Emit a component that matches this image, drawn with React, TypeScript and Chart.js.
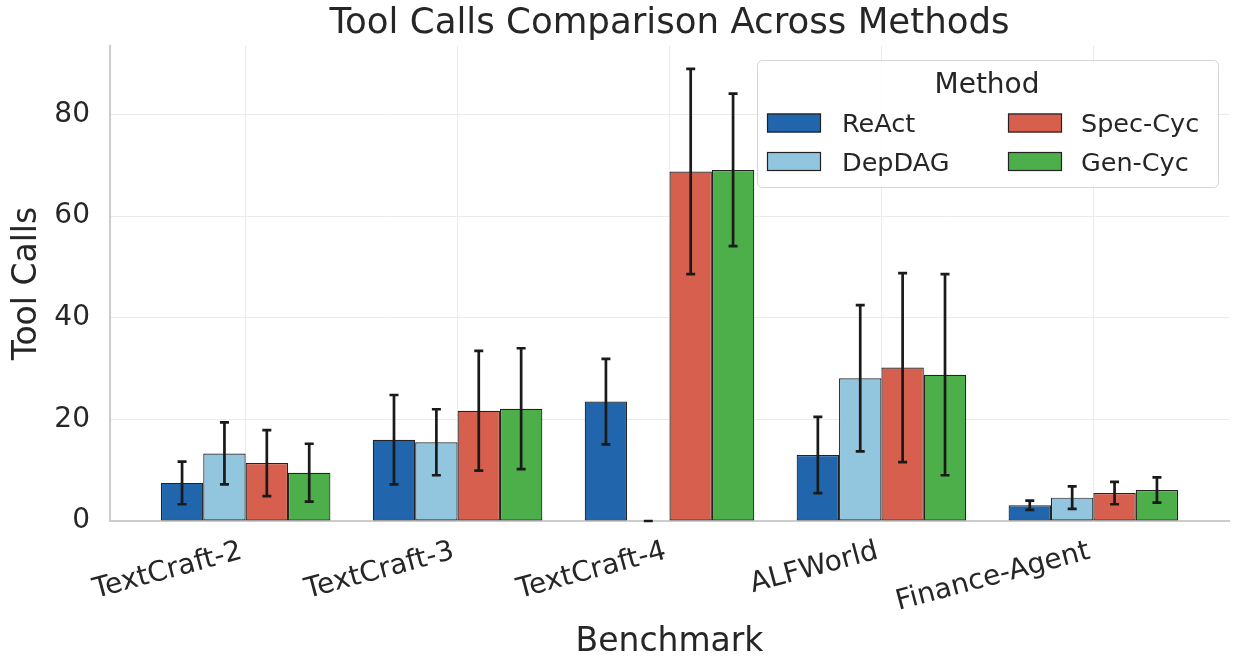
import React, { useEffect, useRef } from "react";
import { Chart, registerables } from "chart.js";

Chart.register(...registerables);

const categories = ["TextCraft-2", "TextCraft-3", "TextCraft-4", "ALFWorld", "Finance-Agent"];
const methods = ["ReAct", "DepDAG", "Spec-Cyc", "Gen-Cyc"];

const reactMean = [7.5, 16.0, 23.5, 13.0, 3.1];
const reactErr = [4.2, 8.8, 8.4, 7.5, 0.9];
const depdagMean = [13.3, 15.5, 0, 28.1, 4.6];
const depdagErr = [6.1, 6.5, 0, 14.4, 2.2];
const specMean = [11.4, 21.7, 68.8, 30.2, 5.5];
const specErr = [6.5, 11.8, 20.2, 18.6, 2.2];
const genMean = [9.5, 22.1, 69.1, 28.8, 6.1];
const genErr = [5.7, 11.9, 15.0, 19.8, 2.5];

const yTicks = [0, 20, 40, 60, 80];

const means = [reactMean, depdagMean, specMean, genMean];
const errs = [reactErr, depdagErr, specErr, genErr];
const colors = ["#2166ac", "#92c5de", "#d6604d", "#4daf4a"];

const FONT = "'DejaVu Sans', sans-serif";
const TEXT = "#262626";

const errorBarPlugin = {
  id: "errorBars",
  afterDatasetsDraw(chart: any) {
    const ctx = chart.ctx;
    const yScale = chart.scales.y;
    chart.data.datasets.forEach((ds: any, i: number) => {
      const meta = chart.getDatasetMeta(i);
      meta.data.forEach((bar: any, j: number) => {
        const v = ds.data[j].y;
        const e = ds.errors[j];
        const top = yScale.getPixelForValue(v + e);
        const bot = yScale.getPixelForValue(Math.max(v - e, 0));
        ctx.save();
        ctx.strokeStyle = "#1a1a1a";
        ctx.lineWidth = 2.7;
        ctx.lineCap = "butt";
        ctx.beginPath();
        ctx.moveTo(bar.x, top);
        ctx.lineTo(bar.x, bot);
        ctx.moveTo(bar.x - 4.5, top);
        ctx.lineTo(bar.x + 4.5, top);
        ctx.moveTo(bar.x - 4.5, bot);
        ctx.lineTo(bar.x + 4.5, bot);
        ctx.stroke();
        ctx.restore();
      });
    });
  },
};

const legendPlugin = {
  id: "methodLegend",
  afterDraw(chart: any) {
    const ctx = chart.ctx;
    const bx = 757, by = 60, bw = 461, bh = 127;
    ctx.save();
    ctx.beginPath();
    (ctx as any).roundRect(bx + 0.5, by + 0.5, bw, bh, 5);
    ctx.fillStyle = "rgba(255,255,255,0.85)";
    ctx.fill();
    ctx.strokeStyle = "#d5d5d5";
    ctx.lineWidth = 1;
    ctx.stroke();

    ctx.fillStyle = TEXT;
    ctx.font = `28px ${FONT}`;
    ctx.textAlign = "center";
    ctx.textBaseline = "alphabetic";
    ctx.fillText("Method", 987, 93);

    const cols = [{ sx: 767, tx: 842 }, { sx: 1008, tx: 1081 }];
    const rows = [123, 161.5];
    chart.data.datasets.forEach((ds: any, i: number) => {
      const col = cols[Math.floor(i / 2)];
      const cy = rows[i % 2];
      ctx.fillStyle = ds.backgroundColor;
      ctx.fillRect(col.sx, cy - 9.5, 54, 19);
      ctx.strokeStyle = "#222";
      ctx.lineWidth = 1.2;
      ctx.strokeRect(col.sx + 0.5, cy - 9.5 + 0.5, 53, 18);
      ctx.fillStyle = TEXT;
      ctx.font = `25.5px ${FONT}`;
      ctx.textAlign = "left";
      ctx.fillText(ds.label, col.tx, cy + 9.3);
    });
    ctx.restore();
  },
};

export default function App() {
  const ref = useRef<HTMLCanvasElement>(null);

  useEffect(() => {
    const datasets = methods.map((m, i) => ({
      label: m,
      data: means[i].map((v, j) => ({ x: j, y: v })),
      errors: errs[i],
      backgroundColor: colors[i],
      borderColor: "#222222",
      borderWidth: 1.2,
      borderSkipped: false,
      categoryPercentage: 0.8,
      barPercentage: 1.0,
    }));

    const chart = new Chart(ref.current as HTMLCanvasElement, {
      type: "bar",
      data: { datasets: datasets as any },
      plugins: [errorBarPlugin, legendPlugin],
      options: {
        animation: false,
        responsive: false,
        devicePixelRatio: 1,
        events: [],
        layout: { padding: { left: 0, right: 6, top: 0, bottom: 0 } },
        plugins: {
          legend: { display: false },
          tooltip: { enabled: false },
          title: {
            display: true,
            text: "Tool Calls Comparison Across Methods",
            fullSize: false,
            color: TEXT,
            font: { family: FONT, size: 35.6, weight: "normal", lineHeight: 1.1 },
            padding: { top: 4, bottom: 2.8 },
          },
        },
        scales: {
          x: {
            type: "linear",
            offset: false,
            min: -0.64,
            max: 4.64,
            afterBuildTicks: (s: any) => {
              s.ticks = categories.map((_, i) => ({ value: i }));
            },
            afterFit: (s: any) => {
              s.height = 141;
            },
            ticks: {
              callback: (v: any) => categories[v] ?? "",
              minRotation: 15,
              maxRotation: 15,
              autoSkip: false,
              padding: 14,
              labelOffset: -4,
              color: TEXT,
              font: { family: FONT, size: 28 },
            },
            grid: { color: "#ebebeb", lineWidth: 1, drawTicks: false, offset: false },
            border: { color: "#cccccc", width: 2 },
            title: {
              display: true,
              text: "Benchmark",
              color: TEXT,
              font: { family: FONT, size: 33 },
              padding: { top: 0, bottom: 0 },
            },
          },
          y: {
            min: 0,
            max: 93.5,
            afterBuildTicks: (s: any) => {
              s.ticks = yTicks.map((v) => ({ value: v }));
            },
            afterFit: (s: any) => {
              s.width = 110;
            },
            ticks: {
              padding: 20,
              color: TEXT,
              font: { family: FONT, size: 28 },
            },
            grid: { color: "#ebebeb", lineWidth: 1, drawTicks: false },
            border: { color: "#cccccc", width: 2 },
            title: {
              display: true,
              text: "Tool Calls",
              color: TEXT,
              font: { family: FONT, size: 33 },
              padding: { top: 8, bottom: 0 },
            },
          },
        },
      } as any,
    });
    return () => chart.destroy();
  }, []);

  return (
    <div style={{ position: "fixed", left: 0, top: 0, width: 1235, height: 662, background: "#ffffff" }}>
      <canvas ref={ref} width={1235} height={662} style={{ width: 1235, height: 662, display: "block" }} />
    </div>
  );
}
